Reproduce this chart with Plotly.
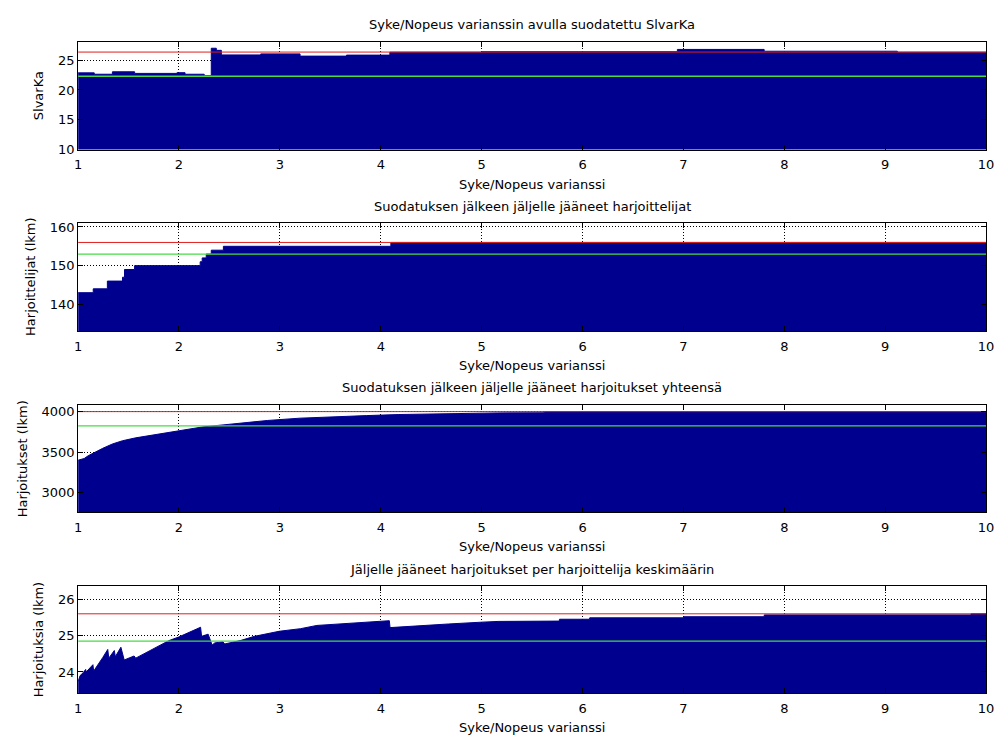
import plotly.graph_objects as go

# ---------------- data ----------------
x_ticks = [1, 2, 3, 4, 5, 6, 7, 8, 9, 10]
x_tick_labels = ["1", "2", "3", "4", "5", "6", "7", "8", "9", "10"]

# Subplot 1: SlvarKa (step breakpoints)
slvarka_x = [1.0, 1.16, 1.34, 1.56, 1.98, 2.06, 2.25, 2.32, 2.37, 2.42, 2.81, 3.2, 3.66, 4.09, 5.0, 6.94, 7.8, 9.12, 10.0]
slvarka_y = [22.87, 22.64, 23.05, 22.78, 22.9, 22.64, 22.4, 27.0, 26.65, 25.88, 26.05, 25.68, 25.85, 26.33, 26.42, 26.8, 26.5, 26.33, 26.33]
slvarka_red = 26.36
slvarka_green = 22.3

# Subplot 2: Harjoittelijat (step breakpoints)
harj_x = [1.0, 1.15, 1.29, 1.44, 1.46, 1.56, 2.21, 2.23, 2.27, 2.32, 2.44, 4.1, 10.0]
harj_y = [143, 144, 146, 147, 149, 150, 151, 152, 153, 154, 155, 156, 156]
harj_red = 156
harj_green = 153

# Subplot 3: Harjoitukset yhteensä
tot_x = [1.0, 1.06, 1.1, 1.15, 1.245, 1.34, 1.44, 1.571, 1.735, 1.898, 2.0, 2.23, 2.39, 2.55, 2.88, 3.2, 3.53, 3.86, 4.18, 4.51, 4.84, 5.16, 5.62, 5.621, 10.0]
tot_y = [3400, 3420, 3455, 3490, 3547, 3600, 3640, 3676, 3709, 3741, 3769, 3810, 3830, 3850, 3891, 3919, 3939, 3951, 3964, 3972, 3980, 3984, 3986, 4000, 4000]
tot_red = 4000
tot_green = 3825

# Subplot 4: Harjoituksia per harjoittelija
avg_x = [1.0, 1.02, 1.05, 1.075, 1.08, 1.147, 1.153, 1.163, 1.245, 1.294, 1.304, 1.359, 1.369, 1.424, 1.457,
         1.555, 1.571, 1.735, 1.898, 1.996, 2.126, 2.214, 2.224, 2.289, 2.328, 2.355, 2.436, 2.453, 2.616,
         2.747, 2.995, 3.204, 3.367, 3.693, 3.997, 4.085, 4.092, 4.347, 4.673, 5.0, 5.163,
         5.77, 5.771, 6.07, 6.071, 7.0, 7.001, 7.8, 7.801, 9.85, 9.851, 10.0]
avg_y = [23.74, 23.9, 23.98, 24.07, 24.0, 24.2, 24.05, 24.06, 24.4, 24.62, 24.38, 24.59, 24.42, 24.68, 24.33,
         24.44, 24.38, 24.62, 24.86, 24.96, 25.13, 25.23, 24.98, 25.04, 24.74, 24.8, 24.83, 24.77, 24.87,
         24.98, 25.12, 25.19, 25.28, 25.34, 25.4, 25.41, 25.22, 25.27, 25.32, 25.37, 25.39,
         25.4, 25.45, 25.45, 25.49, 25.49, 25.52, 25.52, 25.57, 25.57, 25.6, 25.6]
avg_red = 25.6
avg_green = 24.85

titles = ["Syke/Nopeus varianssin avulla suodatettu SlvarKa",
          "Suodatuksen jälkeen jäljelle jääneet harjoittelijat",
          "Suodatuksen jälkeen jäljelle jääneet harjoitukset yhteensä",
          "Jäljelle jääneet harjoitukset per harjoittelija keskimäärin"]
x_label = "Syke/Nopeus varianssi"
y_labels = ["SlvarKa", "Harjoittelijat (lkm)", "Harjoitukset (lkm)", "Harjoituksia (lkm)"]
y_ranges = [[10, 28.1], [133, 161], [2755, 4085], [23.41, 26.36]]
y_ticks = [[10, 15, 20, 25], [140, 150, 160], [3000, 3500, 4000], [24, 25, 26]]

# ---------------- layout in pixels ----------------
W, H = 1003, 745
PX_L, PX_R = 75, 994
plot_tops = [38.3, 222.7, 407.3, 591.7]
plot_bots = [148.0, 332.7, 516.7, 700.7]
ylabel_x = [35, 27, 19, 35]

NAVY = "#00008F"
RED = "rgb(225,30,30)"
GREEN = "rgb(70,220,70)"
FONT = "DejaVu Sans, Verdana, sans-serif"
FS = 13

fig = go.Figure()

series = [
    (slvarka_x, slvarka_y, "hv", slvarka_red, slvarka_green),
    (harj_x, harj_y, "hv", harj_red, harj_green),
    (tot_x, tot_y, "linear", tot_red, tot_green),
    (avg_x, avg_y, "linear", avg_red, avg_green),
]

annotations = []
for i, (sx, sy, shape, red, green) in enumerate(series):
    n = i + 1
    xa = "x" if n == 1 else f"x{n}"
    ya = "y" if n == 1 else f"y{n}"
    fig.add_trace(go.Scatter(x=sx, y=sy, mode="lines", line=dict(color=NAVY, width=1, shape=shape),
                             fill="tozeroy", fillcolor=NAVY, xaxis=xa, yaxis=ya, showlegend=False,
                             hoverinfo="skip"))
    fig.add_trace(go.Scatter(x=[x_ticks[0], x_ticks[-1]], y=[red, red], mode="lines",
                             line=dict(color=RED, width=1), xaxis=xa, yaxis=ya, showlegend=False))
    fig.add_trace(go.Scatter(x=[x_ticks[0], x_ticks[-1]], y=[green, green], mode="lines",
                             line=dict(color=GREEN, width=1.3), xaxis=xa, yaxis=ya, showlegend=False))

    top, bot = plot_tops[i], plot_bots[i]
    dom_y = [1 - bot / H, 1 - top / H]
    axis_common = dict(showline=True, linecolor="black", linewidth=1, mirror="ticks",
                       ticks="inside", ticklen=5, tickcolor="black", showgrid=True,
                       gridcolor="black", griddash="1px,2px", gridwidth=1, zeroline=False,
                       tickfont=dict(family=FONT, size=FS, color="black"))
    fig.update_layout(**{
        ("xaxis" if n == 1 else f"xaxis{n}"): dict(
            domain=[PX_L / W, PX_R / W], range=[1, 10], tickvals=x_ticks, ticktext=x_tick_labels,
            anchor=ya, ticklabelstandoff=3, **axis_common),
        ("yaxis" if n == 1 else f"yaxis{n}"): dict(
            domain=dom_y, range=y_ranges[i], tickvals=y_ticks[i], anchor=xa, **axis_common),
    })
    cx = (PX_L + PX_R) / 2 / W
    annotations.append(dict(text=titles[i], x=cx, y=1 - (top - 17.3) / H, xref="paper", yref="paper",
                            showarrow=False, xanchor="center", yanchor="middle",
                            font=dict(family=FONT, size=FS, color="black")))
    annotations.append(dict(text=x_label, x=cx, y=1 - (bot + 35) / H, xref="paper", yref="paper",
                            showarrow=False, xanchor="center", yanchor="middle",
                            font=dict(family=FONT, size=FS, color="black")))
    annotations.append(dict(text=y_labels[i], x=ylabel_x[i] / W, y=1 - (top + bot) / 2 / H,
                            xref="paper", yref="paper", showarrow=False, textangle=-90,
                            xanchor="center", yanchor="middle",
                            font=dict(family=FONT, size=FS, color="black")))

fig.update_layout(width=W, height=H, margin=dict(l=0, r=0, t=0, b=0),
                  paper_bgcolor="white", plot_bgcolor="white", annotations=annotations,
                  showlegend=False)

fig.write_html("out.html")
